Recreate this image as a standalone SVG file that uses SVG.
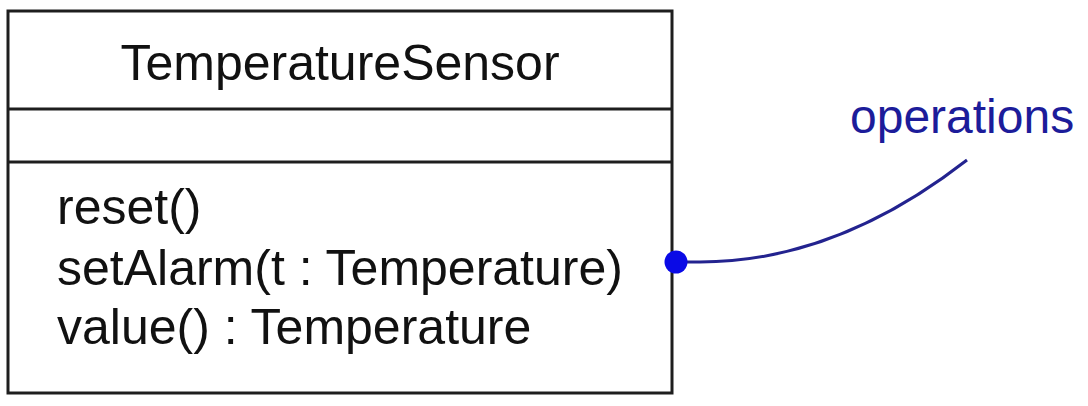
<svg xmlns="http://www.w3.org/2000/svg" width="1088" height="406" viewBox="0 0 1088 406">
  <style>
    .box { fill: #ffffff; stroke: #1e1e1e; stroke-width: 3; }
    .div { stroke: #1e1e1e; stroke-width: 3; }
    .txt { font-family: "Liberation Sans", Arial, sans-serif; font-size: 50px; fill: #111111; }
    .note { font-family: "Liberation Sans", Arial, sans-serif; font-size: 48px; fill: #1c1c9a; }
    .conn { fill: none; stroke: #23238f; stroke-width: 3; }
  </style>
  <rect width="1088" height="406" fill="#ffffff"/>
  <g id="TemperatureSensor">
    <rect class="box" x="8" y="11" width="664" height="382"/>
    <line class="div" x1="8" y1="109" x2="672" y2="109"/>
    <line class="div" x1="8" y1="162" x2="672" y2="162"/>
    <text class="txt" x="340" y="80" text-anchor="middle">TemperatureSensor</text>
    <text class="txt" x="57" y="224">reset()</text>
    <text class="txt" x="57" y="285">setAlarm(t : Temperature)</text>
    <text class="txt" x="57" y="344">value() : Temperature</text>
  </g>
  <g id="operations-note">
    <text class="note" x="850" y="133">operations</text>
  </g>
  <g id="connectors">
    <path class="conn" d="M 676 262 L 700 262 C 800 262, 890 220, 967 160"/>
    <circle cx="676" cy="262" r="11.5" fill="#0a0ae6"/>
  </g>
</svg>
